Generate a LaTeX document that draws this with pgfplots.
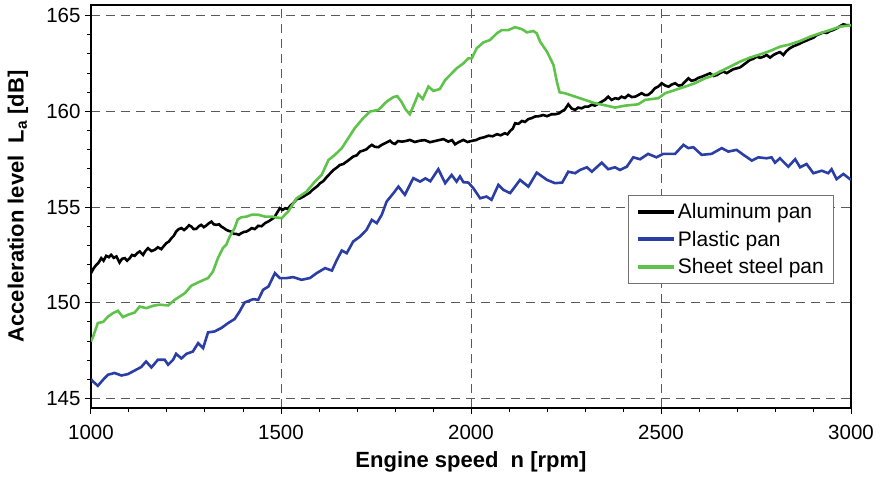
\documentclass[border=0pt]{standalone}
\usepackage{fontspec}
\setmainfont{Liberation Sans}
\usepackage{pgfplots}
\pgfplotsset{compat=1.18}
\definecolor{cblue}{RGB}{42,62,165}
\definecolor{cgreen}{RGB}{95,195,75}
\begin{document}
\begin{tikzpicture}[x=1pt,y=1pt]
\useasboundingbox (-91,-69) rectangle (789,408);
\begin{axis}[
 at={(0pt,0pt)}, anchor=south west,
 width=760pt, height=403pt, scale only axis,
 xmin=1000, xmax=3000, ymin=144.5, ymax=165.56,
 xtick={1000,1500,...,3000}, ytick={145,150,...,165},
 minor x tick num=4, minor y tick num=4,
 tick pos=left, tick align=outside,
 major tick length=6pt, minor tick length=4pt,
 grid=major,
 major grid style={dash pattern=on 9pt off 6pt, black!65, line width=0.9pt},
 axis line style={line width=1.2pt},
 every tick/.style={black, line width=1pt},
 tick label style={font=\fontsize{20.5}{24}\selectfont},
 xticklabel style={yshift=-8pt},
 yticklabel style={xshift=-1pt},
 /pgf/number format/assume math mode=true,
 /pgf/number format/1000 sep={},
 xlabel={Engine speed\ \ n [rpm]},
 ylabel={Acceleration level\ \ L\textsubscript{a} [dB]},
 label style={font=\fontsize{22}{26}\selectfont\bfseries},
 xlabel style={at={(axis description cs:0.5,-0.1464)}, anchor=base},
 ylabel style={at={(axis description cs:-0.0961,0.5)}, anchor=center},
 legend style={at={(0.978,0.529)}, anchor=north east, draw=black!55, line width=0.8pt,
   font=\fontsize{21}{25}\selectfont, inner xsep=8pt, inner ysep=6pt, row sep=7pt},
 legend cell align=left,
 legend image code/.code={\draw[#1, line width=4pt] (0pt,0pt) -- (36pt,0pt);},
]
\addplot[black, line width=2.6pt] coordinates {
(1000,151.55)(1007,151.8)(1014,151.98)(1020,152.1)(1027,152.33)(1033,152.2)(1040,152.45)(1047,152.38)
(1053,152.5)(1060,152.35)(1067,152.42)(1075,152.1)(1082,152.3)(1089,152.33)(1095,152.2)(1102,152.33)
(1108,152.5)(1115,152.45)(1122,152.6)(1128,152.68)(1137,152.5)(1143,152.7)(1150,152.85)(1159,152.7)
(1168,152.77)(1176,152.9)(1185,152.8)(1191,152.95)(1198,153.11)(1205,153.2)(1212,153.38)(1218,153.5)
(1224,153.72)(1231,153.85)(1238,153.9)(1245,153.8)(1251,153.9)(1258,154.05)(1264,153.98)(1270,153.85)
(1277,153.86)(1284,154.0)(1290,154.07)(1297,153.95)(1303,154.03)(1310,154.15)(1317,154.24)(1323,154.1)
(1330,154.07)(1337,154.1)(1343,153.98)(1350,153.9)(1356,153.81)(1363,153.75)(1369,153.72)(1376,153.6)
(1382,153.6)(1389,153.55)(1396,153.64)(1402,153.7)(1409,153.72)(1416,153.8)(1423,153.9)(1431,153.85)
(1440,154.02)(1449,154.0)(1458,154.16)(1467,154.25)(1476,154.37)(1482,154.45)(1489,154.68)(1497,154.94)
(1504,154.85)(1511,154.94)(1518,154.9)(1524,155.06)(1532,155.2)(1541,155.41)(1550,155.45)(1559,155.55)
(1567,155.65)(1576,155.76)(1583,155.9)(1589,155.99)(1596,156.1)(1603,156.25)(1611,156.35)(1620,156.56)
(1629,156.75)(1638,156.94)(1646,157.05)(1655,157.2)(1664,157.25)(1673,157.38)(1681,157.5)(1690,157.64)
(1699,157.7)(1708,157.9)(1716,157.95)(1725,158.02)(1732,158.15)(1739,158.25)(1747,158.15)(1756,158.13)
(1765,158.25)(1774,158.34)(1780,158.4)(1787,158.47)(1793,158.35)(1800,158.3)(1808,158.45)(1818,158.42)
(1828,158.45)(1839,158.51)(1852,158.4)(1866,158.47)(1878,158.5)(1892,158.39)(1905,158.45)(1918,158.51)
(1928,158.55)(1940,158.42)(1950,158.5)(1958,158.28)(1968,158.4)(1980,158.51)(1991,158.4)(2002,158.46)
(2013,158.5)(2024,158.6)(2035,158.65)(2046,158.73)(2057,158.7)(2068,158.81)(2078,158.75)(2089,158.86)
(2096,158.8)(2103,158.98)(2110,159.1)(2116,159.38)(2125,159.35)(2134,159.5)(2142,159.45)(2151,159.6)
(2160,159.65)(2168,159.73)(2179,159.75)(2190,159.81)(2200,159.75)(2212,159.85)(2221,159.85)(2232,159.9)
(2238,159.99)(2247,160.1)(2256,160.37)(2265,160.15)(2274,160.08)(2282,160.2)(2291,160.16)(2300,160.25)
(2309,160.25)(2318,160.35)(2326,160.3)(2335,160.4)(2344,160.51)(2352,160.6)(2361,160.77)(2370,160.6)
(2379,160.69)(2388,160.65)(2396,160.77)(2405,160.7)(2414,160.86)(2423,160.75)(2432,160.77)(2440,160.85)
(2449,160.95)(2458,160.85)(2466,160.86)(2475,161.0)(2484,161.21)(2493,161.3)(2502,161.47)(2511,161.35)
(2520,161.29)(2528,161.4)(2537,161.47)(2546,161.35)(2555,161.38)(2563,161.55)(2572,161.73)(2580,161.6)
(2589,161.64)(2598,161.75)(2607,161.81)(2618,161.9)(2629,161.99)(2638,161.85)(2647,161.9)(2655,162.0)
(2664,162.08)(2673,162.0)(2682,162.11)(2690,162.2)(2699,162.25)(2708,162.3)(2717,162.43)(2725,162.55)
(2734,162.69)(2743,162.75)(2752,162.86)(2761,162.8)(2770,162.86)(2778,162.95)(2787,162.81)(2796,162.95)
(2805,163.04)(2813,163.1)(2822,162.95)(2830,163.15)(2839,163.3)(2848,163.4)(2857,163.47)(2866,163.55)
(2875,163.64)(2883,163.7)(2892,163.78)(2901,163.85)(2910,163.99)(2918,164.05)(2927,164.13)(2936,164.1)
(2945,164.2)(2953,164.25)(2962,164.34)(2971,164.45)(2980,164.55)(2990,164.5)(3000,164.5)
};
\addlegendentry{Aluminum pan}
\addplot[cblue, line width=2.6pt] coordinates {
(1000,146.01)(1005,145.89)(1018,145.66)(1032,145.98)(1045,146.24)(1062,146.33)(1080,146.2)(1097,146.27)
(1115,146.46)(1132,146.64)(1145,146.93)(1159,146.62)(1176,147.02)(1194,147.02)(1203,146.76)(1216,147.02)
(1224,147.33)(1238,147.09)(1251,147.33)(1268,147.45)(1282,147.89)(1295,147.63)(1308,148.45)(1325,148.5)
(1343,148.68)(1361,148.94)(1378,149.15)(1391,149.54)(1404,150.01)(1427,150.19)(1440,150.15)(1453,150.68)
(1467,150.85)(1484,151.55)(1497,151.29)(1515,151.29)(1532,151.34)(1554,151.2)(1576,151.29)(1594,151.55)
(1616,151.81)(1634,151.68)(1647,152.24)(1660,152.73)(1673,152.59)(1690,153.2)(1708,153.46)(1725,153.81)
(1739,154.33)(1752,154.16)(1765,154.59)(1778,155.29)(1796,155.73)(1809,156.07)(1826,155.64)(1848,156.51)
(1866,156.33)(1880,156.5)(1893,156.35)(1914,156.98)(1932,156.25)(1949,156.68)(1962,156.33)(1971,156.6)
(1980,156.3)(1993,156.28)(2006,155.99)(2024,155.46)(2041,155.55)(2054,155.38)(2072,156.16)(2085,155.9)
(2103,155.73)(2129,156.42)(2151,156.07)(2173,156.8)(2200,156.42)(2221,156.25)(2240,156.28)(2256,156.85)
(2274,156.77)(2287,156.94)(2305,157.08)(2318,156.85)(2344,157.32)(2361,156.98)(2379,157.08)(2392,156.94)
(2410,157.11)(2427,157.6)(2445,157.5)(2466,157.78)(2488,157.6)(2506,157.78)(2537,157.78)(2559,158.25)
(2572,158.08)(2585,158.13)(2607,157.73)(2633,157.78)(2660,158.08)(2677,157.9)(2699,157.99)(2717,157.73)
(2739,157.43)(2756,157.6)(2778,157.55)(2791,157.6)(2800,157.32)(2813,157.55)(2835,157.11)(2853,157.5)
(2866,157.08)(2883,157.25)(2901,156.77)(2923,156.9)(2940,156.77)(2949,156.98)(2962,156.46)(2980,156.73)
(3000,156.42)
};
\addlegendentry{Plastic pan}
\addplot[cgreen, line width=2.6pt] coordinates {
(1000,147.98)(1005,148.2)(1018,148.94)(1032,149.0)(1045,149.28)(1058,149.46)(1071,149.58)(1084,149.25)
(1097,149.37)(1115,149.49)(1128,149.8)(1146,149.72)(1163,149.84)(1181,149.9)(1203,149.86)(1220,150.15)
(1247,150.5)(1264,150.89)(1286,151.1)(1308,151.29)(1321,151.63)(1334,152.33)(1347,152.85)(1356,153.03)
(1365,153.46)(1378,153.9)(1386,154.35)(1396,154.47)(1409,154.5)(1423,154.6)(1440,154.6)(1458,154.5)
(1476,154.5)(1490,154.45)(1502,154.42)(1519,154.77)(1541,155.46)(1567,155.8)(1589,156.33)(1607,156.68)
(1625,157.46)(1642,157.73)(1660,158.08)(1677,158.6)(1694,159.12)(1716,159.64)(1734,159.99)(1756,160.08)
(1778,160.51)(1796,160.75)(1806,160.8)(1817,160.5)(1828,160.1)(1839,159.85)(1853,160.5)(1861,160.9)
(1873,160.65)(1888,161.3)(1901,161.07)(1918,161.17)(1932,161.64)(1945,161.9)(1962,162.25)(1980,162.51)
(1993,162.77)(2002,162.77)(2015,163.3)(2033,163.61)(2050,163.73)(2068,164.08)(2081,164.25)(2098,164.25)
(2116,164.4)(2134,164.3)(2147,164.13)(2164,164.2)(2173,164.08)(2182,163.64)(2200,163.12)(2217,162.43)
(2226,161.55)(2233,161.0)(2247,160.95)(2274,160.77)(2300,160.6)(2326,160.43)(2348,160.34)(2379,160.2)
(2405,160.3)(2440,160.37)(2458,160.6)(2493,160.69)(2511,160.95)(2537,161.12)(2563,161.29)(2589,161.47)
(2616,161.73)(2629,161.81)(2655,162.08)(2682,162.34)(2708,162.6)(2734,162.81)(2761,162.98)(2787,163.16)
(2813,163.38)(2839,163.5)(2866,163.68)(2892,163.9)(2918,164.08)(2945,164.25)(2971,164.43)(3000,164.5)
};
\addlegendentry{Sheet steel pan}
\end{axis}
\end{tikzpicture}
\end{document}
